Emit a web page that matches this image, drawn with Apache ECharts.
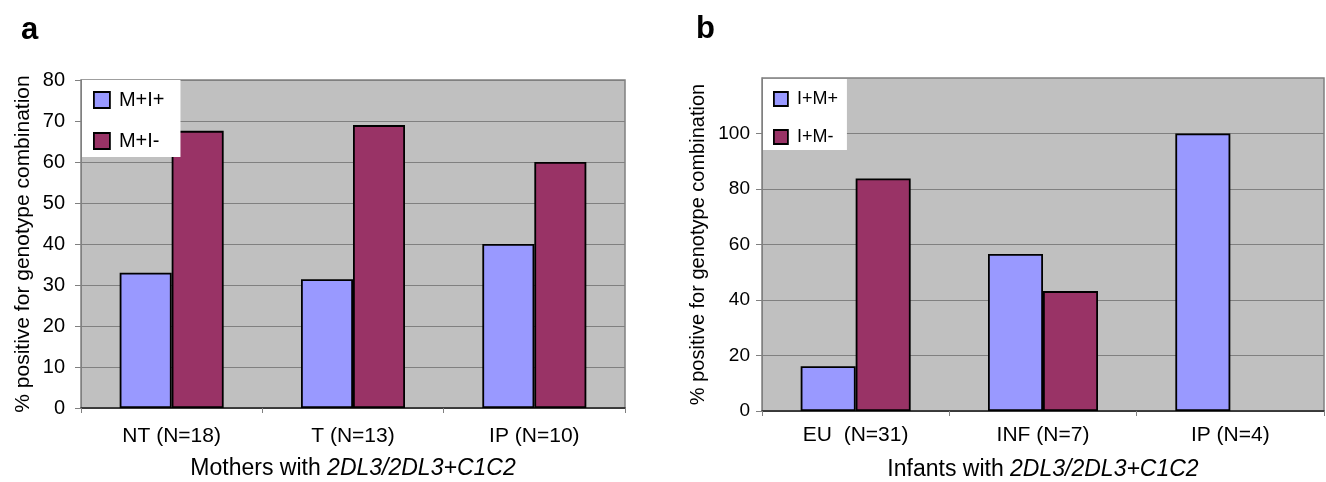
<!DOCTYPE html>
<html>
<head>
<meta charset="utf-8">
<script src="https://cdn.jsdelivr.net/npm/echarts@6/dist/echarts.min.js"></script>
<style>
html,body{margin:0;padding:0;background:#fff;}
#chart{width:1326px;height:482px;}
</style>
</head>
<body>
<div id="chart"></div>
<script>
// Panel a: Mothers
const catsA = ['NT (N=18)', 'T (N=13)', 'IP (N=10)'];
const seriesA1Name = 'M+I+';
const seriesA2Name = 'M+I-';
const valsA1 = [33, 31.4, 40];
const valsA2 = [67.6, 69, 60];
const ticksA = [0, 10, 20, 30, 40, 50, 60, 70, 80];

// Panel b: Infants
const catsB = ['EU  (N=31)', 'INF (N=7)', 'IP (N=4)'];
const seriesB1Name = 'I+M+';
const seriesB2Name = 'I+M-';
const valsB1 = [16.1, 56.6, 100];
const valsB2 = [83.8, 43.2, 0];
const ticksB = [0, 20, 40, 60, 80, 100];

const FONT = '"Liberation Sans", Arial, sans-serif';
const BLUE = '#9999ff';
const MAROON = '#993366';

const chart = echarts.init(document.getElementById('chart'), null, {renderer: 'canvas'});

function yAxis(gridIndex, max, interval, ticks, nameGap, nameSize, labelSize, labelMargin) {
  return {
    type: 'value', gridIndex: gridIndex, min: 0, max: max, interval: interval,
    name: '% positive for genotype combination',
    nameLocation: 'middle', nameGap: nameGap,
    nameTextStyle: {fontFamily: FONT, fontSize: nameSize, color: '#000'},
    axisLine: {show: true, lineStyle: {color: '#808080', width: 1}},
    axisTick: {show: true, length: 6, lineStyle: {color: '#808080'}, customValues: ticks},
    axisLabel: {fontFamily: FONT, fontSize: labelSize, color: '#000', margin: labelMargin, customValues: ticks},
    splitLine: {show: true, lineStyle: {color: '#808080', width: 1.2}}
  };
}

function xAxis(gridIndex, cats, lead, italic, labelSize, labelMargin, nameSize, nameGap) {
  return {
    type: 'category', gridIndex: gridIndex, data: cats,
    name: lead + '{i|' + italic + '}',
    nameLocation: 'middle', nameGap: nameGap,
    nameTextStyle: {fontFamily: FONT, fontSize: nameSize, color: '#000',
      rich: {i: {fontFamily: FONT, fontSize: nameSize, fontStyle: 'italic', color: '#000'}}},
    axisLine: {show: true, lineStyle: {color: '#222', width: 1.5}},
    axisTick: {show: true, length: 5, lineStyle: {color: '#808080'}},
    axisLabel: {fontFamily: FONT, fontSize: labelSize, color: '#000', margin: labelMargin}
  };
}

function bar(name, data, color, xi, yi, w) {
  return {
    type: 'bar', name: name,
    data: data.map(v => (v === 0 ? null : v)),
    xAxisIndex: xi, yAxisIndex: yi,
    barWidth: w, barGap: '0%',
    itemStyle: {color: color, borderColor: '#000', borderWidth: 1.8},
    emphasis: {disabled: true}, animation: false
  };
}

function legend(names, left, top, itemGap, pad, icon, fontSize) {
  return {
    data: names, orient: 'vertical', left: left, top: top,
    backgroundColor: '#fff', padding: pad, itemGap: itemGap,
    itemWidth: icon, itemHeight: icon, icon: 'rect',
    itemStyle: {borderColor: '#000', borderWidth: 1.8},
    textStyle: {fontFamily: FONT, fontSize: fontSize, color: '#000', padding: [0, 0, 0, 4]},
    selectedMode: false
  };
}

const option = {
  animation: false,
  backgroundColor: '#fff',
  title: [
    {text: 'a', left: 16, top: 10, textStyle: {fontFamily: FONT, fontSize: 31, fontWeight: 'bold', color: '#000'}},
    {text: 'b', left: 691, top: 9, textStyle: {fontFamily: FONT, fontSize: 31, fontWeight: 'bold', color: '#000'}}
  ],
  grid: [
    {left: 81, right: 701, top: 80, bottom: 74, outerBoundsMode: 'none', containLabel: false,
     show: true, backgroundColor: '#c0c0c0', borderColor: '#808080', borderWidth: 1.5},
    {left: 762, right: 2, top: 78, bottom: 71, outerBoundsMode: 'none', containLabel: false,
     show: true, backgroundColor: '#c0c0c0', borderColor: '#808080', borderWidth: 1.5}
  ],
  legend: [
    legend([seriesA1Name, seriesA2Name], 82, 80, 21, [10, 16, 6, 11], 16, 20),
    legend([seriesB1Name, seriesB2Name], 763, 79, 20, [11, 9, 4, 10], 14, 18)
  ],
  xAxis: [
    xAxis(0, catsA, 'Mothers with ', '2DL3/2DL3+C1C2', 21, 18, 23, 49),
    xAxis(1, catsB, 'Infants with ', '2DL3/2DL3+C1C2', 21, 14, 23, 47)
  ],
  yAxis: [
    yAxis(0, 80, 10, ticksA, 47, 21, 20, 16),
    yAxis(1, 120, 20, ticksB, 54, 20, 19, 12)
  ],
  series: [
    bar(seriesA1Name, valsA1, BLUE, 0, 0, 52),
    bar(seriesA2Name, valsA2, MAROON, 0, 0, 52),
    bar(seriesB1Name, valsB1, BLUE, 1, 1, 55),
    bar(seriesB2Name, valsB2, MAROON, 1, 1, 55)
  ]
};
chart.setOption(option);
</script>
</body>
</html>
